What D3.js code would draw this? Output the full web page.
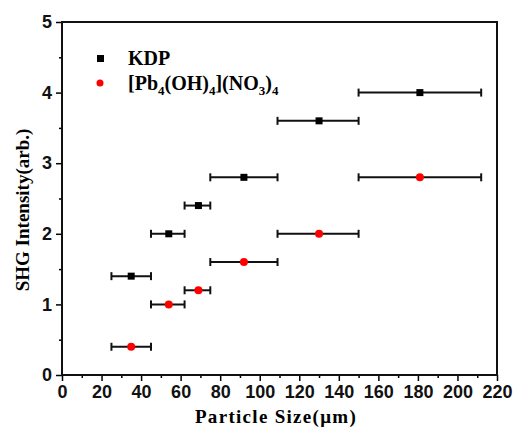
<!DOCTYPE html>
<html>
<head>
<meta charset="utf-8">
<script src="https://cdn.jsdelivr.net/npm/d3@7"></script>
<style>
  body { margin: 0; background: #fff; }
  .tick text { font-family: "Liberation Sans", Arial, sans-serif; font-weight: bold; font-size: 18px; }
  .title { font-family: "Liberation Serif", "Times New Roman", serif; font-weight: bold; font-size: 18px; }
</style>
</head>
<body>
<div id="chart"></div>
<script>
// particle size ranges (um) and SHG intensity
const sizeMid = [35, 54, 69, 92, 130, 181]
const sizeLow = [25, 45, 62, 75, 109, 150]
const sizeHigh = [45, 62, 75, 109, 150, 212]
const kdp = [1.4, 2.0, 2.4, 2.8, 3.6, 4.0]
const pb = [0.4, 1.0, 1.2, 1.6, 2.0, 2.8]
const xTicks = [0, 20, 40, 60, 80, 100, 120, 140, 160, 180, 200, 220]
const yTicks = [0, 1, 2, 3, 4, 5]

const margin = { top: 22, left: 62, right: 16, bottom: 54 }
const width = 513 - margin.left - margin.right
const height = 429 - margin.top - margin.bottom

const svg = d3
  .select('#chart')
  .append('svg')
  .attr('width', 513)
  .attr('height', 429)

const g = svg
  .append('g')
  .attr('transform', 'translate(' + margin.left + ',' + margin.top + ')')

const x = d3.scaleLinear().domain([0, 220]).range([0, width])
const y = d3.scaleLinear().domain([0, 5]).range([height, 0])

// minor ticks
g.append('g')
  .attr('transform', 'translate(0,' + height + ')')
  .call(d3.axisBottom(x).tickValues(d3.range(10, 220, 20)).tickSize(3).tickFormat(''))
  .call(a => a.select('.domain').remove())
  .selectAll('line').attr('stroke-width', 1.5)
g.append('g')
  .call(d3.axisLeft(y).tickValues(d3.range(0.5, 5, 1)).tickSize(3).tickFormat(''))
  .call(a => a.select('.domain').remove())
  .selectAll('line').attr('stroke-width', 1.5)

const xAxis = g
  .append('g')
  .attr('transform', 'translate(0,' + height + ')')
  .call(d3.axisBottom(x).tickValues(xTicks).tickSize(6).tickPadding(4).tickSizeOuter(0))
xAxis.select('.domain').remove()
xAxis.selectAll('line').attr('stroke-width', 1.5)
xAxis.selectAll('text').attr('fill', '#111')

const yAxis = g
  .append('g')
  .call(d3.axisLeft(y).tickValues(yTicks).tickFormat(d3.format('d')).tickSize(6).tickPadding(4).tickSizeOuter(0))
yAxis.select('.domain').remove()
yAxis.selectAll('line').attr('stroke-width', 1.5)
yAxis.selectAll('text').attr('fill', '#111')

// frame
g.append('rect')
  .attr('width', width)
  .attr('height', height)
  .attr('fill', 'none')
  .attr('stroke', '#111')
  .attr('stroke-width', 2)

// error bars
function errorBars(vals) {
  const eb = g.append('g').attr('stroke', '#111').attr('stroke-width', 2)
  vals.forEach((v, i) => {
    eb.append('line')
      .attr('x1', x(sizeLow[i])).attr('x2', x(sizeHigh[i]))
      .attr('y1', y(v)).attr('y2', y(v))
    ;[sizeLow[i], sizeHigh[i]].forEach(s => {
      eb.append('line')
        .attr('x1', x(s)).attr('x2', x(s))
        .attr('y1', y(v) - 4).attr('y2', y(v) + 4)
    })
  })
}
errorBars(kdp)
errorBars(pb)

g.selectAll('.kdp')
  .data(kdp)
  .enter()
  .append('rect')
  .attr('x', (d, i) => x(sizeMid[i]) - 3.5)
  .attr('y', d => y(d) - 3.5)
  .attr('width', 7)
  .attr('height', 7)
  .attr('fill', '#000')

g.selectAll('.pb')
  .data(pb)
  .enter()
  .append('circle')
  .attr('cx', (d, i) => x(sizeMid[i]))
  .attr('cy', d => y(d))
  .attr('r', 4)
  .attr('fill', '#ff0000')

// legend
svg.append('rect').attr('x', 97).attr('y', 55).attr('width', 7).attr('height', 7).attr('fill', '#000')
svg.append('circle').attr('cx', 100).attr('cy', 83).attr('r', 3.5).attr('fill', '#ff0000')
svg.append('text').attr('class', 'title').attr('x', 128).attr('y', 65).style('font-size', '20px').text('KDP')
const lt = svg.append('text').attr('class', 'title').attr('x', 128).attr('y', 90).style('font-size', '20px')
lt.append('tspan').text('[Pb')
lt.append('tspan').attr('dy', 5).style('font-size', '13px').text('4')
lt.append('tspan').attr('dy', -5).text('(OH)')
lt.append('tspan').attr('dy', 5).style('font-size', '13px').text('4')
lt.append('tspan').attr('dy', -5).text('](NO')
lt.append('tspan').attr('dy', 5).style('font-size', '13px').text('3')
lt.append('tspan').attr('dy', -5).text(')')
lt.append('tspan').attr('dy', 5).style('font-size', '13px').text('4')

// axis titles
svg.append('text')
  .attr('class', 'title')
  .attr('text-anchor', 'middle')
  .attr('x', 276)
  .attr('y', 423)
  .style('font-size', '19px')
  .style('letter-spacing', '1.3px')
  .text('Particle Size(μm)')

svg.append('text')
  .attr('class', 'title')
  .attr('text-anchor', 'middle')
  .attr('transform', 'translate(29,210) rotate(-90)')
  .style('font-size', '19px')
  .text('SHG Intensity(arb.)')
</script>
</body>
</html>
